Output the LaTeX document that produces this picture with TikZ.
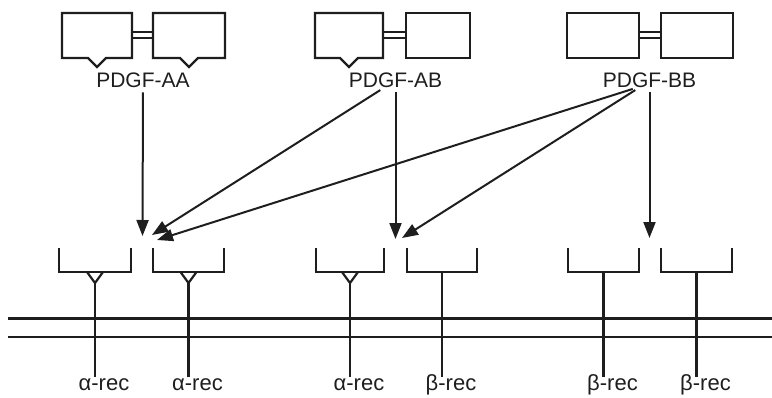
\documentclass[tikz,border=0pt]{standalone}
\usepackage{fontspec}
\setmainfont{Liberation Sans}
\usetikzlibrary{arrows.meta}
\definecolor{FigInk}{HTML}{1E1E1E}

\begin{document}
\begin{tikzpicture}[x=1pt,y=-1pt,>={Triangle[length=16pt,width=12pt]},
    wire/.style={FigInk,line width=2.2pt,line join=miter},
    push/.style={FigInk,line width=2pt,->,shorten <=5pt},
    ligand/.style={FigInk,font=\fontsize{21}{21}\selectfont,inner sep=0pt,anchor=base},
    receptor/.style={FigInk,font=\fontsize{22}{22}\selectfont,inner sep=0pt,anchor=base}]
  \useasboundingbox (0,0) rectangle (772,397);
  % ligand dimers
  \foreach \xa/\xb/\dp in {62/132/9,153/225/9,315/383/9,406/470/0,567/639/0,661/733/0}{%
    \draw[wire] (\xa,13) -- (\xb,13) -- (\xb,58) -- ({(\xa+\xb)/2+9},58)
      -- ({(\xa+\xb)/2},{58+\dp}) -- ({(\xa+\xb)/2-9},58) -- (\xa,58) -- cycle;
  }
  \foreach \xa/\xb in {132/153,383/406,639/661}{%
    \draw[wire] (\xa,32) -- (\xb,32) (\xa,38) -- (\xb,38);
  }
  \node[ligand] (aa) at (143,87) {PDGF-AA};
  \node[ligand] (ab) at (395.5,87) {PDGF-AB};
  \node[ligand] (bb) at (649.5,87) {PDGF-BB};
  % arrow targets
  \coordinate (tAA) at (142.5,236);
  \coordinate (tAAb) at (152,235);
  \coordinate (tAAc) at (157,240);
  \coordinate (tAB) at (395.5,239);
  \coordinate (tABb) at (402,238);
  \coordinate (tBB) at (649.5,238);
  \draw[push] (aa.south) -- (tAA);
  \draw[push] ([xshift=-11pt]ab.south) -- (tAAb);
  \draw[push] (ab.south) -- (tAB);
  \draw[push] ([xshift=-12pt]bb.south) -- (tAAc);
  \draw[push] ([xshift=-10pt]bb.south) -- (tABb);
  \draw[push] (bb.south) -- (tBB);
  % membrane
  \draw[wire] (8,318.5) -- (772,318.5) (8,337) -- (772,337);
  % receptors
  \foreach \xa/\xb/\dp/\lab [count=\i] in {59/131/11/α,153/224/11/α,316/384/11/α,407/477/0/β,568/639/0/β,661/732/0/β}{%
    \draw[wire] (\xa,248) -- (\xa,272) -- (\xb,272) -- (\xb,248);
    \draw[wire] ({(\xa+\xb)/2-8},272) -- ({(\xa+\xb)/2},{272+\dp}) -- ({(\xa+\xb)/2+8},272);
    \draw[wire] ({(\xa+\xb)/2},{272+\dp}) -- ({(\xa+\xb)/2},377);
    \node[receptor] (rec\i) at ({(\xa+\xb)/2+9},390) {\lab-rec};
  }
\end{tikzpicture}
\end{document}
